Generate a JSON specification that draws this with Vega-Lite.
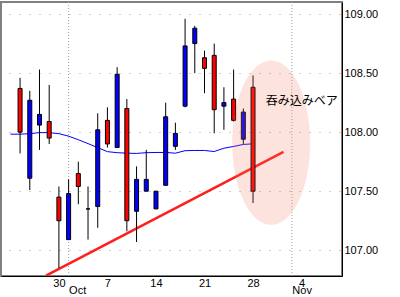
{
  "$schema": "https://vega.github.io/schema/vega-lite/v6.json",
  "width": 341,
  "height": 274,
  "padding": {"left": 1, "top": 1, "right": 0, "bottom": 0},
  "background": "white",
  "config": {
    "view": {"stroke": "#808080", "strokeWidth": 2},
    "axis": {"labelFont": "Liberation Sans", "labelFontSize": 11, "labelColor": "black", "title": null}
  },
  "datasets": {
    "candles": [
      {"d": "2019-09-24", "i": 0, "o": 108.37, "h": 108.46, "l": 107.82, "c": 108.00},
      {"d": "2019-09-25", "i": 1, "o": 107.61, "h": 108.35, "l": 107.51, "c": 108.27},
      {"d": "2019-09-26", "i": 2, "o": 108.06, "h": 108.53, "l": 107.85, "c": 108.15},
      {"d": "2019-09-27", "i": 3, "o": 108.09, "h": 108.40, "l": 107.90, "c": 107.95},
      {"d": "2019-09-30", "i": 4, "o": 107.45, "h": 107.54, "l": 106.85, "c": 107.25},
      {"d": "2019-10-01", "i": 5, "o": 107.09, "h": 107.60, "l": 107.09, "c": 107.48},
      {"d": "2019-10-02", "i": 6, "o": 107.65, "h": 107.75, "l": 107.39, "c": 107.54},
      {"d": "2019-10-03", "i": 7, "o": 107.35, "h": 107.54, "l": 107.09, "c": 107.35},
      {"d": "2019-10-04", "i": 8, "o": 107.37, "h": 108.16, "l": 107.19, "c": 108.02},
      {"d": "2019-10-07", "i": 9, "o": 108.10, "h": 108.21, "l": 107.87, "c": 107.90},
      {"d": "2019-10-08", "i": 10, "o": 107.87, "h": 108.55, "l": 107.87, "c": 108.49},
      {"d": "2019-10-09", "i": 11, "o": 108.20, "h": 108.28, "l": 107.16, "c": 107.25},
      {"d": "2019-10-10", "i": 12, "o": 107.33, "h": 107.71, "l": 107.07, "c": 107.60},
      {"d": "2019-10-11", "i": 13, "o": 107.50, "h": 107.85, "l": 107.50, "c": 107.60},
      {"d": "2019-10-14", "i": 14, "o": 107.35, "h": 107.50, "l": 107.35, "c": 107.50},
      {"d": "2019-10-15", "i": 15, "o": 107.55, "h": 108.25, "l": 107.55, "c": 108.13},
      {"d": "2019-10-16", "i": 16, "o": 107.88, "h": 108.08, "l": 107.85, "c": 107.99},
      {"d": "2019-10-17", "i": 17, "o": 108.22, "h": 108.96, "l": 108.21, "c": 108.73},
      {"d": "2019-10-18", "i": 18, "o": 108.75, "h": 108.90, "l": 108.50, "c": 108.88},
      {"d": "2019-10-21", "i": 19, "o": 108.63, "h": 108.69, "l": 108.33, "c": 108.54},
      {"d": "2019-10-22", "i": 20, "o": 108.65, "h": 108.75, "l": 107.99, "c": 108.19},
      {"d": "2019-10-23", "i": 21, "o": 108.22, "h": 108.38, "l": 108.02, "c": 108.25},
      {"d": "2019-10-24", "i": 22, "o": 108.28, "h": 108.53, "l": 108.09, "c": 108.10},
      {"d": "2019-10-25", "i": 23, "o": 107.94, "h": 108.20, "l": 107.90, "c": 108.17},
      {"d": "2019-10-28", "i": 24, "o": 108.38, "h": 108.48, "l": 107.40, "c": 107.50}
    ],
    "ma": [
      {"i": -1, "p": 107.983}, {"i": 0, "p": 107.983}, {"i": 1, "p": 107.987}, {"i": 2, "p": 107.996},
      {"i": 3, "p": 107.996}, {"i": 4, "p": 107.987}, {"i": 5, "p": 107.966}, {"i": 6, "p": 107.936},
      {"i": 7, "p": 107.903}, {"i": 8, "p": 107.869}, {"i": 9, "p": 107.835}, {"i": 10, "p": 107.826},
      {"i": 11, "p": 107.822}, {"i": 12, "p": 107.820}, {"i": 13, "p": 107.826}, {"i": 14, "p": 107.828},
      {"i": 15, "p": 107.828}, {"i": 16, "p": 107.822}, {"i": 17, "p": 107.843}, {"i": 18, "p": 107.845},
      {"i": 19, "p": 107.845}, {"i": 20, "p": 107.836}, {"i": 21, "p": 107.864}, {"i": 22, "p": 107.879},
      {"i": 23, "p": 107.896}, {"i": 24, "p": 107.901}
    ],
    "trend": [{"i": 2.67, "p": 106.785}, {"i": 27.14, "p": 107.833}],
    "months": [{"i": 5, "m": "Oct"}, {"i": 28, "m": "Nov"}],
    "zone": [{"i": 25.87, "p": 107.911}],
    "note": [{"i": 25.3, "p": 108.263, "label": "吞み込みベア"}]
  },
  "layer": [
    {
      "data": {"name": "months"},
      "mark": {"type": "rule", "color": "#a0a0a0", "strokeDash": [1, 2], "strokeWidth": 1},
      "encoding": {
        "x": {
          "field": "i", "type": "quantitative",
          "scale": {"domain": [-1.45, 32.65], "nice": false, "zero": false},
          "axis": {
            "orient": "bottom",
            "values": [4, 5, 9, 14, 19, 24, 28, 29],
            "labelExpr": "datum.value == 4 ? '30' : datum.value == 5 ? ['', 'Oct'] : datum.value == 9 ? '7' : datum.value == 14 ? '14' : datum.value == 19 ? '21' : datum.value == 24 ? '28' : datum.value == 28 ? ['', 'Nov'] : '4'",
            "labelAlign": {"condition": {"test": "datum.value == 5 || datum.value == 28", "value": "left"}, "value": "center"},
            "labelBaseline": "top",
            "labelLineHeight": 7,
            "labelPadding": 1,
            "labelOverlap": false,
            "labelBound": false,
            "labelFlush": false,
            "ticks": false,
            "grid": false,
            "domainColor": "black",
            "domainWidth": 1
          }
        }
      }
    },
    {
      "data": {"name": "ma"},
      "mark": {"type": "line", "color": "#0000ff", "strokeWidth": 1},
      "encoding": {
        "x": {"field": "i", "type": "quantitative"},
        "y": {
          "field": "p", "type": "quantitative",
          "scale": {"domain": [106.782, 109.102], "nice": false, "zero": false},
          "axis": {
            "orient": "right",
            "values": [107, 107.25, 107.5, 107.75, 108, 108.25, 108.5, 108.75, 109],
            "labelExpr": "(datum.value * 4) % 2 == 0 ? format(datum.value, '.2f') : ''",
            "labelPadding": 2,
            "ticks": false,
            "grid": true,
            "gridColor": "#a0a0a0",
            "gridDash": [1, 9],
            "gridDashOffset": 8,
            "domainColor": "black",
            "domainWidth": 1,
            "labelBaseline": "middle"
          }
        }
      }
    },
    {
      "data": {"name": "trend"},
      "mark": {"type": "line", "color": "#ff1e1e", "strokeWidth": 2.5, "clip": true},
      "encoding": {
        "x": {"field": "i", "type": "quantitative"},
        "y": {"field": "p", "type": "quantitative"}
      }
    },
    {
      "data": {"name": "candles"},
      "mark": {"type": "rule", "color": "black", "strokeWidth": 1},
      "encoding": {
        "x": {"field": "i", "type": "quantitative"},
        "y": {"field": "l", "type": "quantitative"},
        "y2": {"field": "h"}
      }
    },
    {
      "data": {"name": "candles"},
      "mark": {"type": "bar", "width": 4, "stroke": "black", "strokeWidth": 1},
      "encoding": {
        "x": {"field": "i", "type": "quantitative"},
        "y": {"field": "o", "type": "quantitative"},
        "y2": {"field": "c"},
        "fill": {"condition": {"test": "datum.c >= datum.o", "value": "#0000ff"}, "value": "#ff0000"}
      }
    },
    {
      "data": {"name": "zone"},
      "mark": {
        "type": "point",
        "shape": "M0,-1C0.2618,-1,0.474,-0.5523,0.474,0C0.474,0.5523,0.2618,1,0,1C-0.2618,1,-0.474,0.5523,-0.474,0C-0.474,-0.5523,-0.2618,-1,0,-1Z",
        "size": 27027,
        "filled": true,
        "fill": "#f5735a",
        "opacity": 0.2,
        "strokeWidth": 0
      },
      "encoding": {
        "x": {"field": "i", "type": "quantitative"},
        "y": {"field": "p", "type": "quantitative"}
      }
    },
    {
      "data": {"name": "note"},
      "mark": {"type": "text", "align": "left", "baseline": "middle", "font": "Noto Sans CJK JP", "fontSize": 12, "color": "black"},
      "encoding": {
        "x": {"field": "i", "type": "quantitative"},
        "y": {"field": "p", "type": "quantitative"},
        "text": {"field": "label"}
      }
    }
  ]
}
